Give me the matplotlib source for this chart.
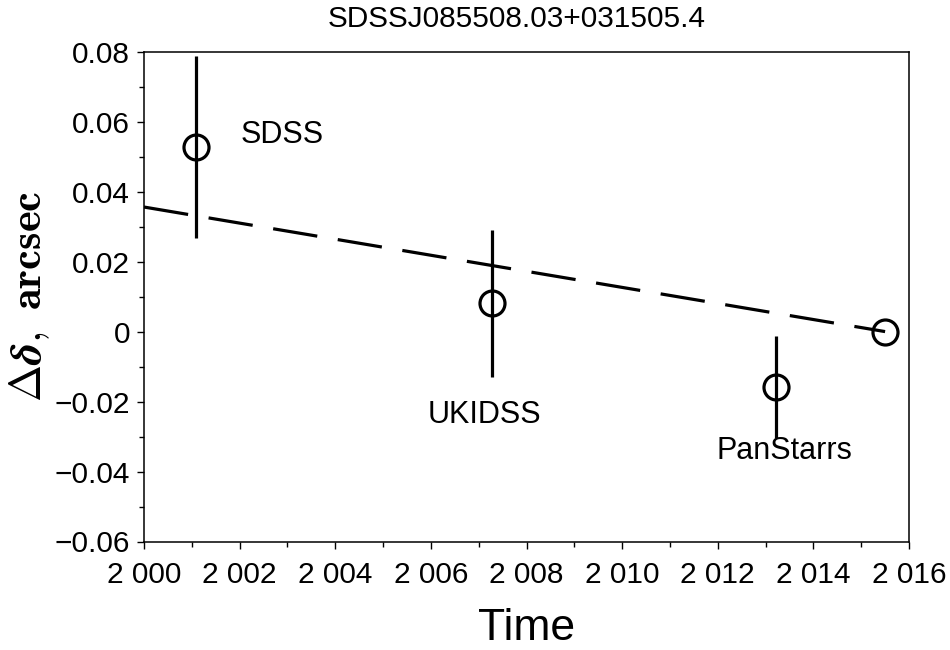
import matplotlib
matplotlib.use("Agg")
import matplotlib.pyplot as plt
from matplotlib.ticker import MultipleLocator, FuncFormatter

# ---- data ----
years = [2001.09, 2007.27, 2013.22, 2015.5]
ddec = [0.0528, 0.0081, -0.0159, 0.0]
ddec_err = [0.026, 0.021, 0.0145, 0.0]
survey_names = ["SDSS", "UKIDSS", "PanStarrs"]
fit_years = [2000.0, 2015.5]
fit_values = [0.0356, 0.0]
title = "SDSSJ085508.03+031505.4"
x_ticks = [2000, 2002, 2004, 2006, 2008, 2010, 2012, 2014, 2016]
y_ticks = [-0.06, -0.04, -0.02, 0.0, 0.02, 0.04, 0.06, 0.08]

plt.rcParams['font.family'] = ['Liberation Sans', 'DejaVu Sans']
plt.rcParams['mathtext.fontset'] = 'cm'

fig = plt.figure(figsize=(9.5, 6.5), dpi=100)
ax = fig.add_axes([144/950, 1 - 541.5/650, (909 - 144)/950, (541.5 - 51.7)/650])

ax.plot(fit_years, fit_values, color='black', lw=2.3, dashes=(14, 6.5), zorder=2)
ax.errorbar(years, ddec, yerr=ddec_err, fmt='o', mfc='none', mec='black',
            ms=18, mew=2.3, ecolor='black', elinewidth=2.3, capsize=0, zorder=3)

label_pos = [(2002.88, 0.0563), (2007.13, -0.0239), (2013.40, -0.0342)]
for name, (lx, ly) in zip(survey_names, label_pos):
    ax.text(lx, ly, name, fontsize=22, ha='center', va='center')

ax.set_xlim(2000, 2016)
ax.set_ylim(-0.06, 0.08)
ax.set_xticks(x_ticks)
ax.set_yticks(y_ticks)
ax.xaxis.set_minor_locator(MultipleLocator(1))
ax.yaxis.set_minor_locator(MultipleLocator(0.01))

def yfmt(v, pos):
    if abs(v) < 1e-9:
        return "0"
    s = f"{v:.2f}"
    return s.replace("-", "\u2212")

def xfmt(v, pos):
    return f"{int(round(v)):,}".replace(",", " ")

ax.yaxis.set_major_formatter(FuncFormatter(yfmt))
ax.xaxis.set_major_formatter(FuncFormatter(xfmt))

ax.tick_params(which='major', direction='out', length=5, width=1, labelsize=21.5, pad=5)
ax.tick_params(which='minor', direction='out', length=3.6, width=1)
ax.tick_params(top=False, right=False, which='both')
ax.tick_params(axis='x', pad=9)
for sp in ax.spines.values():
    sp.set_linewidth(1.1)

ax.set_xlabel("Time", fontsize=32, labelpad=14)
ax.set_ylabel(r'$\mathbf{\Delta}\boldsymbol{\delta}\mathbf{,\ arcsec}$', fontsize=32, labelpad=2)

fig.text(517/950, 1 - 19/650, title, fontsize=21.4, ha='center', va='center')

fig.savefig("out.png", dpi=100, facecolor='white')
